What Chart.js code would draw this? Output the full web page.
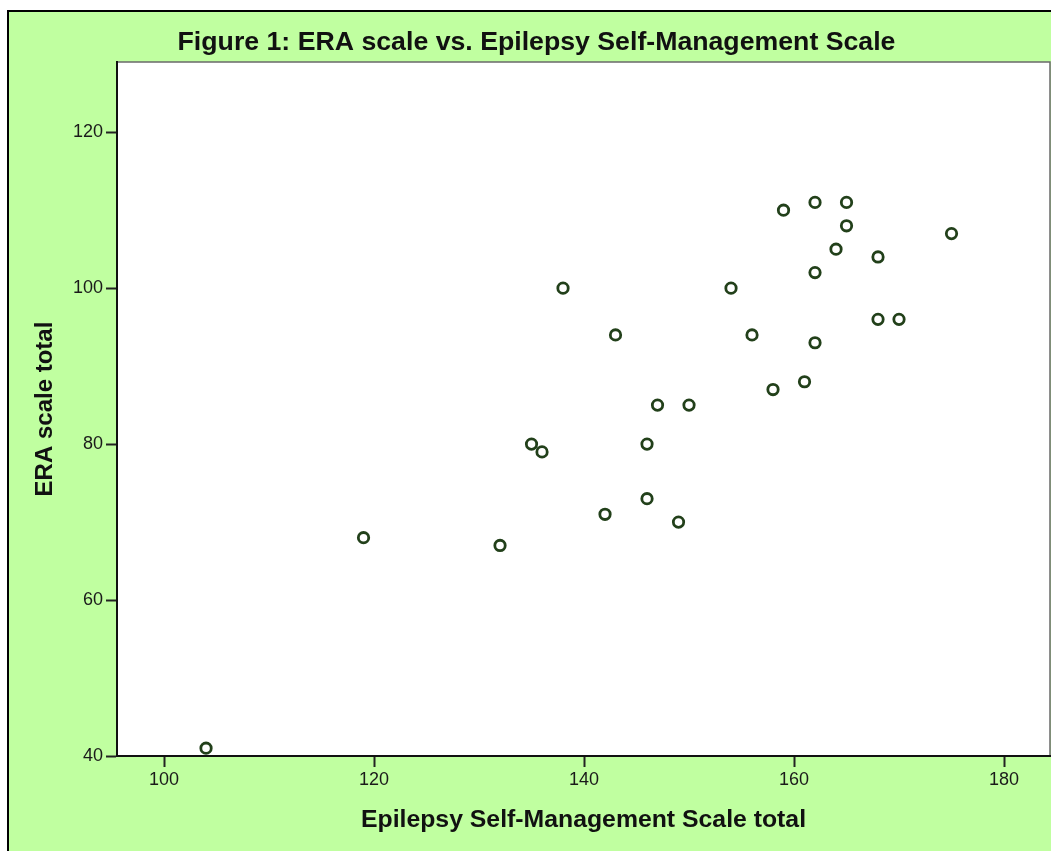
<!DOCTYPE html>
<html>
<head>
<meta charset="utf-8">
<script src="https://cdn.jsdelivr.net/npm/chart.js@4/dist/chart.umd.min.js"></script>
<style>
  html, body { margin: 0; padding: 0; background: #ffffff; }
  #c { display: block; }
</style>
</head>
<body>
<canvas id="c" width="1051" height="851"></canvas>
<script>
// ---- Data ----
const selfManagement = [104, 119, 132, 135, 136, 138, 142, 143, 146, 146, 147, 149, 150, 154, 156, 158, 159, 161, 162, 162, 162, 164, 165, 165, 168, 168, 170, 175];
const eraScale       = [ 41,  68,  67,  80,  79, 100,  71,  94,  80,  73,  85,  70,  85, 100,  94,  87, 110,  88, 111, 102,  93, 105, 111, 108, 104,  96,  96, 107];
const xTicks = [100, 120, 140, 160, 180];
const yTicks = [40, 60, 80, 100, 120];

const chartTitle = 'Figure 1: ERA scale vs. Epilepsy Self-Management Scale';
const xTitle = 'Epilepsy Self-Management Scale total';
const yTitle = 'ERA scale total';

const points = selfManagement.map((x, i) => ({ x: x, y: eraScale[i] }));

const FONT = "'Liberation Sans', Arial, sans-serif";
const GREEN = '#c0ffa0';
const PLOT_RIGHT = 1050;

// Stretch the plot area to the reference's right edge (Chart.js reserves
// room for the last tick label otherwise).
const plotRightPlugin = {
  id: 'plotRight',
  afterLayout(chart) {
    const a = chart.chartArea;
    a.right = PLOT_RIGHT;
    a.width = a.right - a.left;
    const x = chart.scales.x;
    x.right = PLOT_RIGHT;
    x.width = x.right - x.left;
    x.configure();
  }
};

const backgroundPlugin = {
  id: 'spssBackground',
  beforeDraw(chart) {
    const ctx = chart.ctx;
    const W = chart.width, H = chart.height;
    ctx.save();
    ctx.fillStyle = '#ffffff';
    ctx.fillRect(0, 0, W, H);
    ctx.fillStyle = GREEN;
    ctx.fillRect(8, 11, W - 8, H - 11);
    // outer frame (top + left)
    ctx.strokeStyle = '#000000';
    ctx.lineWidth = 2;
    ctx.beginPath();
    ctx.moveTo(8, H);
    ctx.lineTo(8, 11);
    ctx.lineTo(W, 11);
    ctx.stroke();
    // plot area
    const a = chart.chartArea;
    ctx.fillStyle = '#ffffff';
    ctx.fillRect(a.left, a.top, a.right - a.left, a.bottom - a.top);
    ctx.strokeStyle = '#6a6a6a';
    ctx.lineWidth = 1.5;
    ctx.beginPath();
    ctx.moveTo(a.left, a.top);
    ctx.lineTo(a.right, a.top);
    ctx.lineTo(a.right, a.bottom);
    ctx.stroke();
    ctx.restore();
  }
};

new Chart(document.getElementById('c'), {
  type: 'scatter',
  data: {
    datasets: [{
      data: points,
      pointStyle: 'circle',
      pointRadius: 5.2,
      pointHoverRadius: 5.2,
      pointBorderWidth: 2.8,
      pointBackgroundColor: '#ffffff',
      pointBorderColor: '#22401a'
    }]
  },
  options: {
    responsive: false,
    devicePixelRatio: 1,
    animation: false,
    events: [],
    layout: { padding: { left: 23, right: 1, top: 11, bottom: 0 } },
    plugins: {
      legend: { display: false },
      tooltip: { enabled: false },
      title: {
        display: true,
        text: chartTitle,
        color: '#111111',
        font: { family: FONT, size: 26.7, weight: 'bold', lineHeight: 1.2 },
        padding: { top: 15.6, bottom: 3.4 }
      }
    },
    scales: {
      x: {
        type: 'linear',
        min: 95.52,
        max: 184.38,
        afterBuildTicks(scale) { scale.ticks = xTicks.map(v => ({ value: v })); },
        afterFit(scale) { scale.height = 95; scale.paddingLeft = 0; scale.paddingRight = 0; },
        grid: { display: true, drawOnChartArea: false, drawTicks: true, tickLength: 11, tickWidth: 2, color: '#222222' },
        border: { display: true, color: '#111111', width: 2 },
        ticks: { color: '#1a1a1a', padding: 2, maxRotation: 0, font: { family: FONT, size: 18 } },
        title: {
          display: true,
          text: xTitle,
          color: '#111111',
          font: { family: FONT, size: 24.8, weight: 'bold', lineHeight: 1.2 },
          padding: { top: 0, bottom: 16.1 }
        }
      },
      y: {
        type: 'linear',
        min: 40,
        max: 129,
        afterBuildTicks(scale) { scale.ticks = yTicks.map(v => ({ value: v })); },
        afterFit(scale) { scale.width = 94; scale.paddingTop = 0; scale.paddingBottom = 0; },
        grid: { display: true, drawOnChartArea: false, drawTicks: true, tickLength: 11, tickWidth: 2, color: '#222222' },
        border: { display: true, color: '#111111', width: 2 },
        ticks: { color: '#1a1a1a', padding: 3, font: { family: FONT, size: 18 } },
        title: {
          display: true,
          text: yTitle,
          color: '#111111',
          font: { family: FONT, size: 24, weight: 'bold', lineHeight: 1.2 },
          padding: { top: 7.6, bottom: 0 }
        }
      }
    }
  },
  plugins: [plotRightPlugin, backgroundPlugin]
});
</script>
</body>
</html>
